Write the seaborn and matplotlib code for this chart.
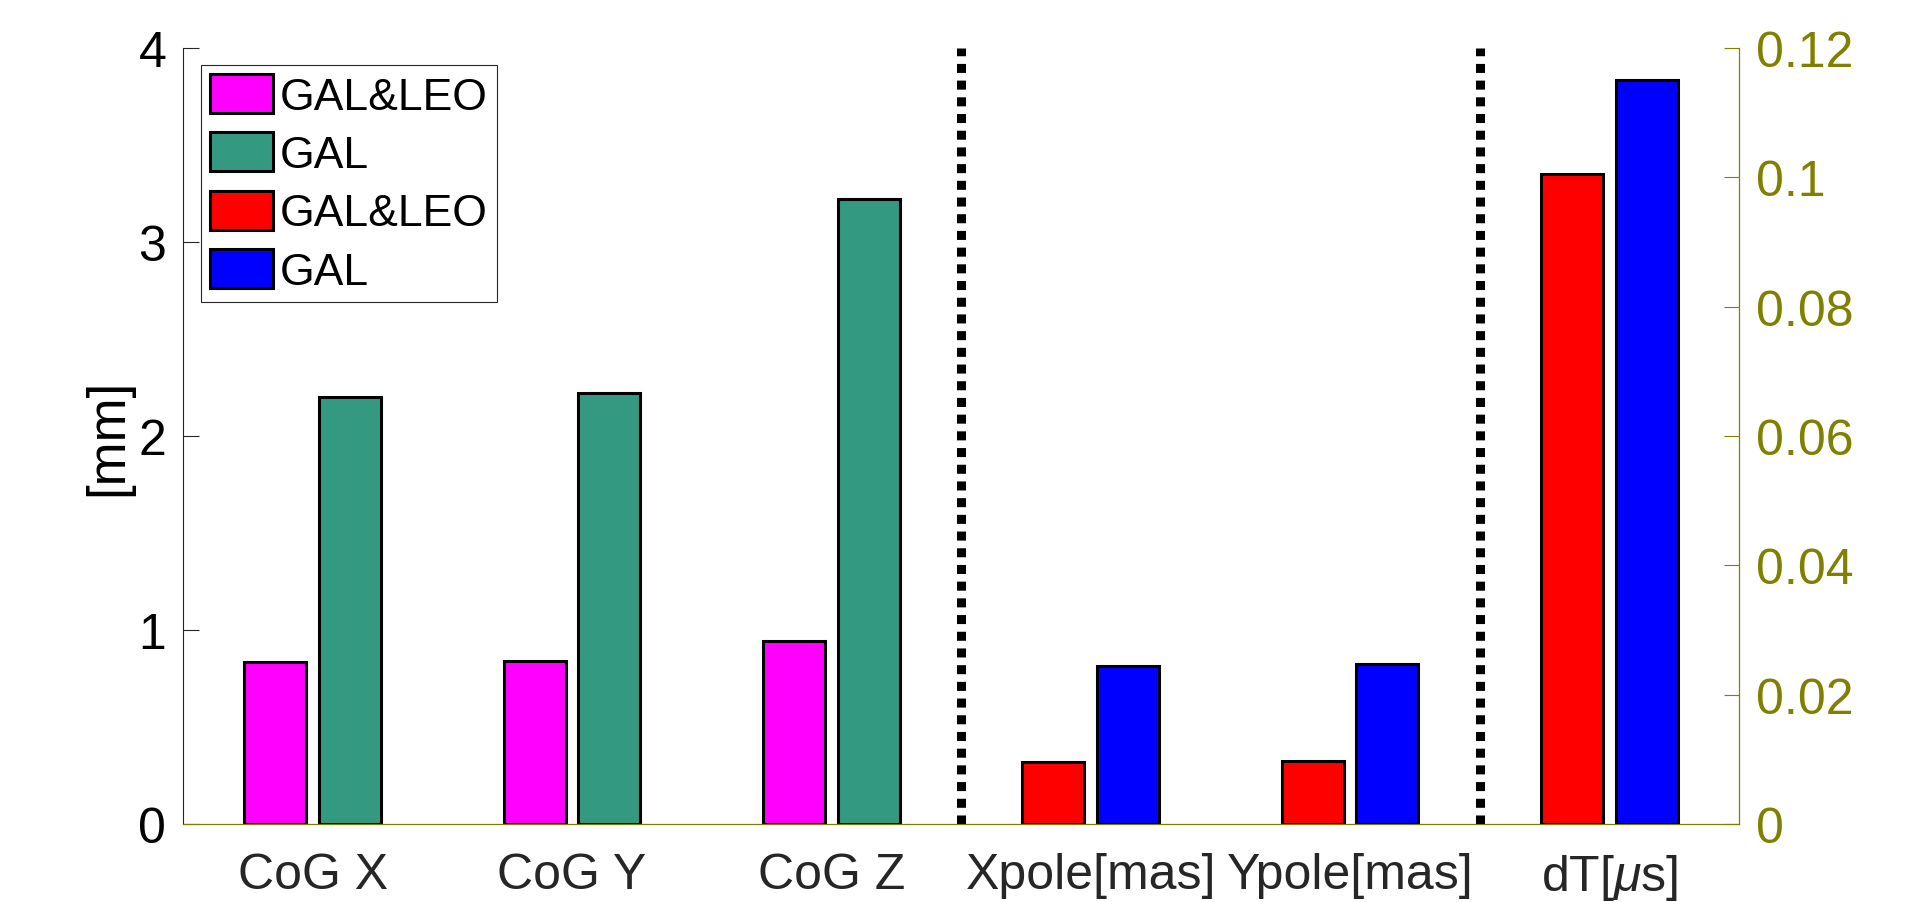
import matplotlib
matplotlib.use("Agg")
import matplotlib.pyplot as plt
import numpy as np
import pandas as pd
import seaborn as sns
from matplotlib.patches import Patch

# ---- data -------------------------------------------------------------
quantities = ["CoG X", "CoG Y", "CoG Z", "Xpole[mas]", "Ypole[mas]", r"dT[$\mu$s]"]
solutions = ["GAL&LEO", "GAL"]

# geocenter (CoG) offsets in mm
cog_gal_leo = [0.835, 0.84, 0.945]
cog_gal = [2.20, 2.22, 3.22]
# pole coordinates in mas
pole_gal_leo = [0.32, 0.325]
pole_gal = [0.815, 0.825]
# clock offset in microseconds (right axis)
dt_gal_leo = [0.1005]
dt_gal = [0.115]

left_ticks = [0, 1, 2, 3, 4]
left_tick_labels = ["0", "1", "2", "3", "4"]
right_ticks = [0, 0.02, 0.04, 0.06, 0.08, 0.10, 0.12]
right_tick_labels = ["0", "0.02", "0.04", "0.06", "0.08", "0.1", "0.12"]

cog_colors = ["#FF00FF", "#339980"]
erp_colors = ["#FF0000", "#0000FF"]
olive = "#808000"
ink = "#262626"


def long_frame(names, a, b):
    return pd.DataFrame({
        "quantity": list(names) * 2,
        "solution": [solutions[0]] * len(a) + [solutions[1]] * len(b),
        "value": list(a) + list(b),
    })


cog_df = long_frame(quantities[0:3], cog_gal_leo, cog_gal)
pole_df = long_frame(quantities[3:5], pole_gal_leo, pole_gal)
dt_df = long_frame(quantities[5:6], dt_gal_leo, dt_gal)

# ---- style ------------------------------------------------------------
sns.set_style("white")
plt.rcParams["font.family"] = ["Liberation Sans", "DejaVu Sans"]
plt.rcParams["mathtext.fontset"] = "custom"
plt.rcParams["mathtext.rm"] = "Liberation Sans"
plt.rcParams["mathtext.it"] = "Liberation Sans:italic"

W, H = 1906, 903
fig = plt.figure(figsize=(W / 100, H / 100), dpi=100)
ax = fig.add_axes([183 / W, 1 - 825 / H, (1739 - 183) / W, (825 - 49) / H])

bar_kw = dict(x="quantity", y="value", hue="solution", order=quantities,
              hue_order=solutions, width=0.576, gap=0.17, dodge=True,
              edgecolor="black", linewidth=2.2, saturation=1.0,
              errorbar=None, legend=False)

sns.barplot(data=cog_df, ax=ax, palette=cog_colors, **bar_kw)
sns.barplot(data=pole_df, ax=ax, palette=erp_colors, **bar_kw)

# separators between the three groups of parameters
for xs in (2.5, 4.5):
    ax.axvline(xs, color="black", linewidth=6.5, linestyle=(0, (1, 0.85)),
               zorder=3)

tick_fs = 36

ax.set_xlim(-0.5, 5.5)
ax.set_ylim(0, 4)
ax.set_yticks(left_ticks)
ax.set_yticklabels(left_tick_labels)
ax.set_xticks(range(len(quantities)))
ax.set_xticklabels(quantities)
ax.set_xlabel("")
ax.set_ylabel("[mm]", fontsize=38, color="black")
ax.yaxis.set_label_coords(-0.032, 0.5)

ax.tick_params(axis="y", direction="in", length=11.2, width=0.8, color=ink,
               labelsize=tick_fs, labelcolor="black", pad=12)
ax.tick_params(axis="x", direction="in", length=10, width=0.8, color=ink,
               labelsize=tick_fs, labelcolor=ink, pad=20)

for side in ("top", "right"):
    ax.spines[side].set_visible(False)
ax.spines["left"].set_color(ink)
ax.spines["left"].set_linewidth(0.8)
ax.spines["bottom"].set_color(olive)
ax.spines["bottom"].set_linewidth(0.9)

# ---- right axis: clock offset ------------------------------------------
ax2 = ax.twinx()
sns.barplot(data=dt_df, ax=ax2, palette=erp_colors, **bar_kw)
ax2.set_xlim(-0.5, 5.5)
ax2.set_ylim(0, 0.12)
ax2.set_yticks(right_ticks)
ax2.set_yticklabels(right_tick_labels)
ax2.set_ylabel("")
ax2.set_xlabel("")
ax2.xaxis.set_visible(False)
ax2.tick_params(axis="y", direction="in", length=11, width=0.8, color=olive,
                labelsize=tick_fs, labelcolor=olive, pad=12, left=False,
                right=True, labelleft=False, labelright=True)
for side in ("top", "left", "bottom"):
    ax2.spines[side].set_visible(False)
ax2.spines["right"].set_color(olive)
ax2.spines["right"].set_linewidth(0.9)

# ---- legend -----------------------------------------------------------
handles = [
    Patch(facecolor=cog_colors[0], edgecolor="black", linewidth=2.2, label=solutions[0]),
    Patch(facecolor=cog_colors[1], edgecolor="black", linewidth=2.2, label=solutions[1]),
    Patch(facecolor=erp_colors[0], edgecolor="black", linewidth=2.2, label=solutions[0]),
    Patch(facecolor=erp_colors[1], edgecolor="black", linewidth=2.2, label=solutions[1]),
]
leg = ax2.legend(handles=handles, loc="upper left",
                 bbox_to_anchor=((201 - 183) / 1556, 1 - (66 - 49) / 776),
                 borderaxespad=0, fontsize=32, frameon=True, fancybox=False,
                 framealpha=1, edgecolor=ink, handlelength=1.42,
                 handleheight=0.97, handletextpad=0.16, labelspacing=0.33,
                 borderpad=0.2)
leg.get_frame().set_linewidth(0.8)
for t in leg.get_texts():
    t.set_color("black")

fig.savefig("out.png", dpi=100)
